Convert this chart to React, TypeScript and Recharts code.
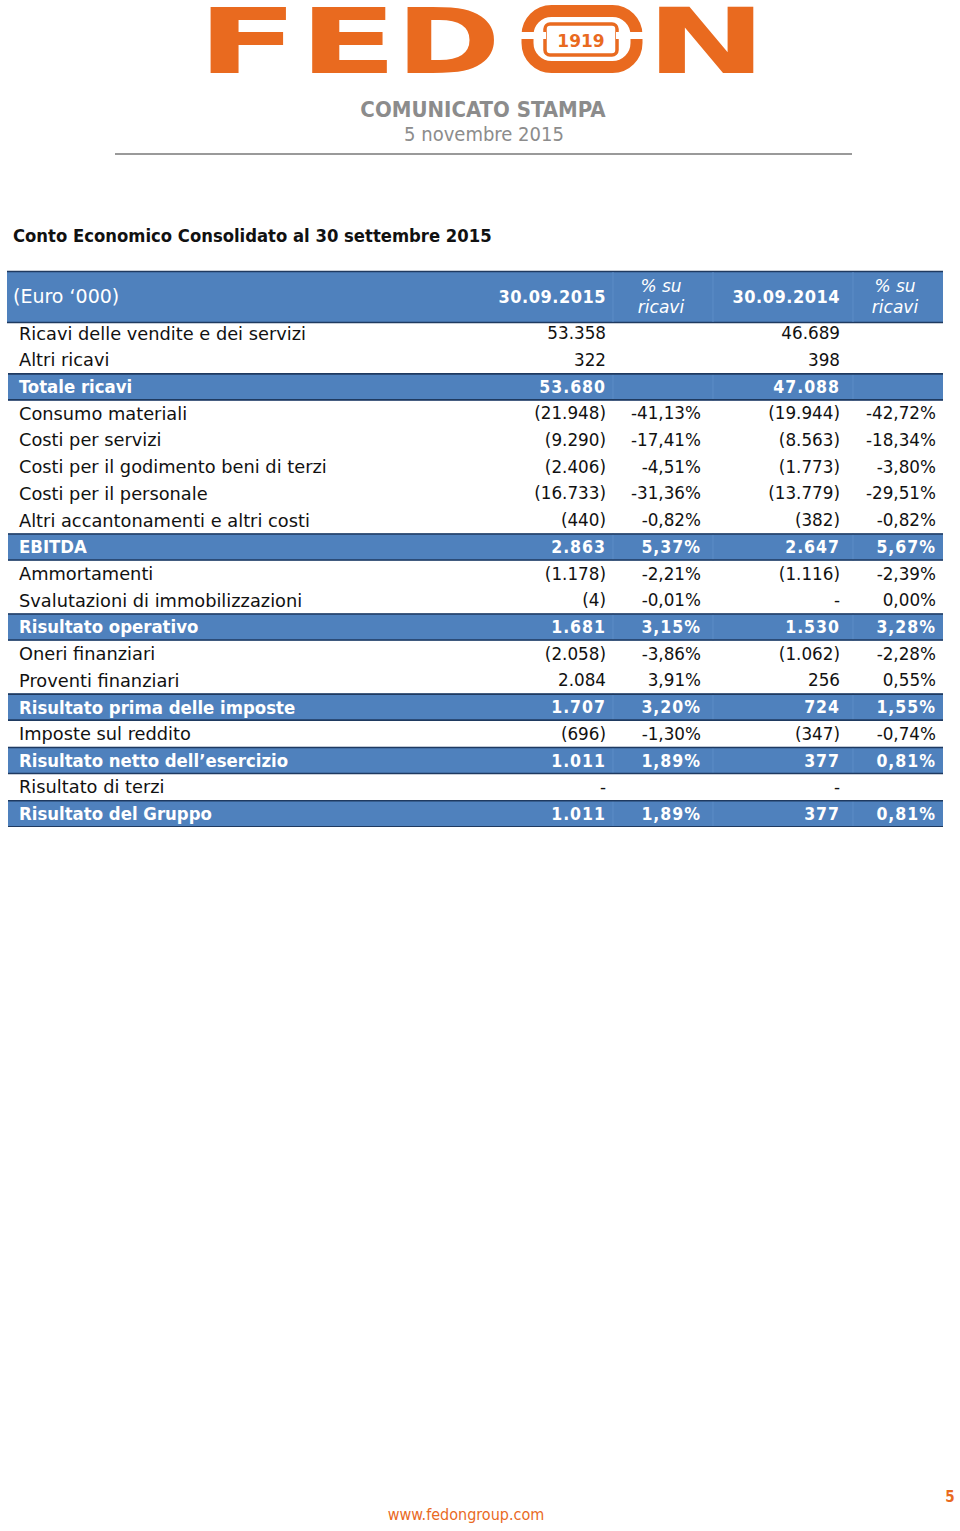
import { BarChart, Bar, XAxis, YAxis } from 'recharts'

const COND = "'DejaVu Sans Condensed', 'DejaVu Sans', sans-serif"
const SANS = "'DejaVu Sans', sans-serif"
const ORANGE = '#E96A1F'
const BLUE = '#4F81BD'
const NAVY = '#1F3A60'

const labels = [
  'Ricavi delle vendite e dei servizi',
  'Altri ricavi',
  'Totale ricavi',
  'Consumo materiali',
  'Costi per servizi',
  'Costi per il godimento beni di terzi',
  'Costi per il personale',
  'Altri accantonamenti e altri costi',
  'EBITDA',
  'Ammortamenti',
  'Svalutazioni di immobilizzazioni',
  'Risultato operativo',
  'Oneri finanziari',
  'Proventi finanziari',
  'Risultato prima delle imposte',
  'Imposte sul reddito',
  'Risultato netto dell’esercizio',
  'Risultato di terzi',
  'Risultato del Gruppo',
]

// 0 shows as "-", null leaves the cell empty
const val2015 = [53358, 322, 53680, -21948, -9290, -2406, -16733, -440, 2863, -1178, -4, 1681, -2058, 2084, 1707, -696, 1011, 0, 1011]
const pct2015 = [null, null, null, -41.13, -17.41, -4.51, -31.36, -0.82, 5.37, -2.21, -0.01, 3.15, -3.86, 3.91, 3.2, -1.3, 1.89, null, 1.89]
const val2014 = [46689, 398, 47088, -19944, -8563, -1773, -13779, -382, 2647, -1116, 0, 1530, -1062, 256, 724, -347, 377, 0, 377]
const pct2014 = [null, null, null, -42.72, -18.34, -3.8, -29.51, -0.82, 5.67, -2.39, 0, 3.28, -2.28, 0.55, 1.55, -0.74, 0.81, null, 0.81]
const totalRows = [0, 0, 1, 0, 0, 0, 0, 0, 1, 0, 0, 1, 0, 0, 1, 0, 1, 0, 1]

const headers = ['(Euro ‘000)', '30.09.2015', '% su', 'ricavi', '30.09.2014']

const group = (n: number) => String(n).replace(/\B(?=(\d{3})+(?!\d))/g, '.')
const fmtNum = (n: number) => (n === 0 ? '-' : n < 0 ? `(${group(-n)})` : group(n))
const fmtPct = (p: number | null) => (p == null ? '' : p.toFixed(2).replace('.', ',') + '%')

const rows = labels.map((label, i) => ({
  label,
  band: totalRows[i],
  v15: fmtNum(val2015[i]),
  p15: fmtPct(pct2015[i]),
  v14: fmtNum(val2014[i]),
  p14: fmtPct(pct2014[i]),
}))

// right edges of the value columns, chart coordinates
const COLS = [599, 694, 833, 929]
const SEPS = [606, 706, 846]

function RowTick(props: any) {
  const { y, payload } = props
  const r = rows.find((row) => row.label === payload?.value)
  if (!r) return <g />
  const bold = r.band === 1
  const fill = bold ? '#fff' : '#111'
  const label = bold
    ? { fontFamily: COND, fontWeight: 700, fontSize: 18.4 }
    : { fontFamily: SANS, fontWeight: 400, fontSize: 17.8 }
  const num = bold
    ? { fontFamily: COND, fontWeight: 700, fontSize: 17.5, letterSpacing: 1 }
    : { fontFamily: SANS, fontWeight: 400, fontSize: 16.8 }
  return (
    <g fill={fill}>
      <text {...label} y={y} dy="0.36em" x={12} textAnchor="start">{r.label}</text>
      <text {...num} y={y} dy="0.36em" x={COLS[0]} textAnchor="end">{r.v15}</text>
      <text {...num} y={y} dy="0.36em" x={COLS[1]} textAnchor="end">{r.p15}</text>
      <text {...num} y={y} dy="0.36em" x={COLS[2]} textAnchor="end">{r.v14}</text>
      <text {...num} y={y} dy="0.36em" x={COLS[3]} textAnchor="end">{r.p14}</text>
    </g>
  )
}

function BandShape(props: any) {
  const { x, y, width, height } = props
  if (!width || width <= 0) return <g />
  return (
    <g>
      <rect x={x} y={y} width={width} height={height} fill={BLUE} />
      {SEPS.map((s) => (
        <line key={s} x1={s} x2={s} y1={y} y2={y + height} stroke="#5C8CC6" strokeWidth={1} />
      ))}
      <line x1={x} x2={x + width} y1={y + 0.5} y2={y + 0.5} stroke={NAVY} strokeWidth={1.6} />
      <line x1={x} x2={x + width} y1={y + height - 0.5} y2={y + height - 0.5} stroke={NAVY} strokeWidth={1.6} />
    </g>
  )
}

// one stretched logo letter, drawn in its own box so the text is never clipped
function LogoLetter({ ch, x, scale }: { ch: string; x: number; scale: number }) {
  return (
    <svg x={x} y={0} width={80 * scale} height={90} viewBox="0 0 80 90" preserveAspectRatio="none" overflow="visible">
      <text x={0} y={73} fontFamily={SANS} fontWeight={700} fontSize={90} fill={ORANGE}>{ch}</text>
    </svg>
  )
}

function Page() {
  return (
    <svg width={960} height={1531} style={{ position: 'absolute', left: 0, top: 0 }}>
      {/* logo */}
      <LogoLetter ch="F" x={197} scale={1.65} />
      <LogoLetter ch="E" x={299} scale={1.6} />
      <LogoLetter ch="D" x={396} scale={1.4} />
      <rect x={527.5} y={11} width={109} height={56} rx={24} fill="none" stroke={ORANGE} strokeWidth={12} />
      <rect x={545} y={24} width={72} height={31} rx={5} fill="none" stroke={ORANGE} strokeWidth={3.5} />
      <rect x={516} y={32} width={30} height={7} fill="#fff" />
      <rect x={616} y={32} width={30} height={7} fill="#fff" />
      <text x={581} y={46.5} textAnchor="middle" fontFamily={SANS} fontWeight={700}
        fontSize={17} fill={ORANGE}>1919</text>
      <LogoLetter ch="N" x={646} scale={1.6} />

      <text x={483} y={117} textAnchor="middle" fontFamily={COND} fontWeight={700} fontSize={22} fill="#8C8C8C">
        COMUNICATO STAMPA
      </text>
      <text x={484} y={141} textAnchor="middle" fontFamily={COND} fontSize={20} fill="#8C8C8C">
        5 novembre 2015
      </text>
      <line x1={115} x2={852} y1={154} y2={154} stroke="#9A9A9A" strokeWidth={2} />

      <text x={13} y={242} fontFamily={COND} fontWeight={700} fontSize={18.3} fill="#111">
        Conto Economico Consolidato al 30 settembre 2015
      </text>

      {/* table header */}
      <rect x={7} y={271} width={936} height={52} fill={BLUE} />
      <line x1={7} x2={943} y1={271.5} y2={271.5} stroke={NAVY} strokeWidth={1.6} />
      <line x1={7} x2={943} y1={322.5} y2={322.5} stroke={NAVY} strokeWidth={1.6} />
      {SEPS.map((s) => (
        <line key={s} x1={s + 7} x2={s + 7} y1={272} y2={322} stroke="#5C8CC6" strokeWidth={1} />
      ))}
      <text x={13} y={303} fontFamily={SANS} fontSize={19} fill="#fff">{headers[0]}</text>
      <text x={606} y={303} textAnchor="end" fontFamily={COND} fontSize={18} fontWeight={700} letterSpacing={0.5} fill="#fff">{headers[1]}</text>
      <text x={840} y={303} textAnchor="end" fontFamily={COND} fontSize={18} fontWeight={700} letterSpacing={0.5} fill="#fff">{headers[4]}</text>
      {[661, 895].map((cx) => (
        <g key={cx}>
          <text x={cx} y={292} textAnchor="middle" fontFamily={SANS} fontStyle="italic" fontSize={17} fill="#fff">{headers[2]}</text>
          <text x={cx} y={313} textAnchor="middle" fontFamily={SANS} fontStyle="italic" fontSize={17} fill="#fff">{headers[3]}</text>
        </g>
      ))}

      <text x={466} y={1520} textAnchor="middle" fontFamily={COND} fontSize={16} fill={ORANGE}>www.fedongroup.com</text>
      <text x={950} y={1502} textAnchor="middle" fontFamily={COND} fontWeight={700} fontSize={15} fill={ORANGE}>5</text>
    </svg>
  )
}

export default function App() {
  return (
    <div style={{ position: 'absolute', left: 0, top: 0, width: 960, height: 1531, background: '#fff' }}>
      <Page />
      <div style={{ position: 'absolute', left: 7, top: 320 }}>
        <BarChart
          width={936}
          height={507}
          data={rows}
          layout="vertical"
          margin={{ top: 0, right: 0, bottom: 0, left: 0 }}
          barCategoryGap={0}
        >
          <XAxis type="number" domain={[0, 1]} hide />
          <Bar dataKey="band" isAnimationActive={false} shape={<BandShape />} />
          <YAxis
            type="category"
            dataKey="label"
            width={1}
            interval={0}
            axisLine={false}
            tickLine={false}
            tick={(p: any) => <RowTick {...p} />}
          />
        </BarChart>
      </div>
    </div>
  )
}
